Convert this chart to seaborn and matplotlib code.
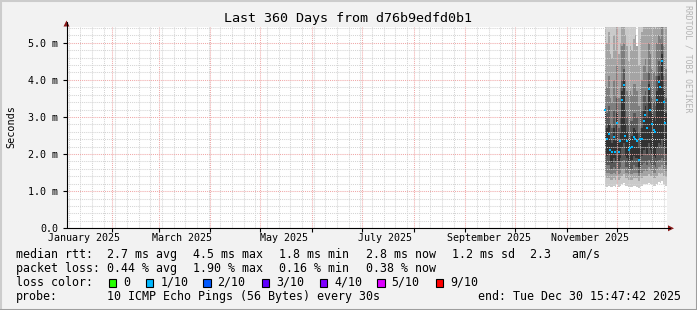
import matplotlib
matplotlib.use("Agg")
import matplotlib.pyplot as plt
import matplotlib.dates as mdates
from matplotlib.patches import Rectangle, Polygon
from matplotlib.lines import Line2D
from matplotlib.transforms import blended_transform_factory
import seaborn as sns
import pandas as pd
import numpy as np

W, H = 697, 310
sns.set_theme(style="white")
plt.rcParams['font.family'] = ['DejaVu Sans Mono', 'DejaVu Sans']

# ---------------- data ----------------
title = "Last 360 Days from d76b9edfd0b1"
range_start = pd.Timestamp("2025-01-04 15:47:42")
range_end = pd.Timestamp("2025-12-30 15:47:42")
days = pd.date_range("2025-11-23 12:00", periods=37, freq="D")

median = [3.20, 2.40, 2.55, 2.10, 2.05, 2.45, 2.05, 2.85, 2.05, 2.35, 3.45, 3.85, 2.50, 2.35, 2.10, 2.15, 2.20, 2.45, 2.40,
          2.35, 1.85, 2.40, 2.40, 2.90, 3.05, 2.70, 3.75, 3.20, 2.80, 2.65, 2.60, 3.45, 3.95, 3.80, 4.50, 3.40, 2.85]
ping5 = [2.00, 1.95, 2.00, 1.80, 1.75, 1.90, 1.80, 2.10, 1.80, 1.90, 2.20, 2.30, 1.95, 1.90, 1.80, 1.80, 1.85, 1.95, 1.90,
         1.90, 1.65, 1.90, 1.95, 2.10, 2.20, 2.00, 2.30, 2.10, 2.00, 1.95, 1.90, 2.20, 2.30, 2.25, 2.40, 2.15, 2.00]
ping6 = [3.30, 2.70, 2.80, 2.40, 2.30, 2.70, 2.35, 3.10, 2.30, 2.60, 3.70, 4.00, 2.80, 2.60, 2.40, 2.40, 2.50, 2.70, 2.65,
         2.60, 2.20, 2.70, 2.70, 3.20, 3.30, 3.00, 3.90, 3.40, 3.10, 3.00, 2.90, 3.70, 4.10, 4.00, 4.70, 3.70, 3.10]
ping4 = [1.75, 1.70, 1.70, 1.60, 1.60, 1.65, 1.60, 1.75, 1.60, 1.65, 1.80, 1.85, 1.65, 1.65, 1.60, 1.60, 1.60, 1.70, 1.65,
         1.65, 1.50, 1.65, 1.70, 1.75, 1.80, 1.70, 1.85, 1.75, 1.70, 1.70, 1.65, 1.80, 1.85, 1.85, 1.90, 1.80, 1.70]
ping7 = [3.60, 3.10, 3.30, 2.80, 2.70, 3.20, 2.80, 3.50, 2.70, 3.00, 4.00, 4.30, 3.20, 3.00, 2.80, 2.90, 2.90, 3.10, 3.10,
         3.00, 2.60, 3.10, 3.20, 3.60, 3.70, 3.40, 4.20, 3.80, 3.50, 3.40, 3.30, 4.10, 4.50, 4.40, 5.00, 4.10, 3.50]
ping3 = [1.55, 1.50, 1.50, 1.45, 1.45, 1.50, 1.45, 1.55, 1.45, 1.50, 1.60, 1.60, 1.50, 1.50, 1.45, 1.45, 1.45, 1.50, 1.50,
         1.50, 1.40, 1.50, 1.50, 1.55, 1.60, 1.55, 1.65, 1.60, 1.55, 1.50, 1.50, 1.60, 1.65, 1.65, 1.70, 1.60, 1.55]
ping8 = [4.30, 3.80, 4.10, 3.50, 3.40, 4.00, 3.60, 4.40, 3.50, 3.80, 4.90, 5.00, 4.00, 3.70, 3.60, 3.70, 3.60, 3.90, 3.90,
         3.70, 3.30, 3.90, 4.00, 4.40, 4.60, 4.20, 5.00, 4.70, 4.30, 4.20, 4.10, 5.00, 5.20, 5.10, 5.60, 4.90, 4.30]
ping2 = [1.38, 1.35, 1.35, 1.30, 1.30, 1.35, 1.30, 1.40, 1.30, 1.35, 1.42, 1.45, 1.35, 1.35, 1.30, 1.30, 1.30, 1.35, 1.35,
         1.35, 1.28, 1.35, 1.35, 1.40, 1.42, 1.40, 1.45, 1.42, 1.40, 1.35, 1.35, 1.42, 1.48, 1.45, 1.50, 1.42, 1.38]
ping9 = [5.50, 5.00, 5.30, 4.70, 4.60, 5.20, 4.80, 5.70, 4.70, 5.00, 6.00, 6.30, 5.20, 4.90, 4.50, 4.90, 4.80, 5.10, 5.20,
         4.90, 4.40, 5.10, 5.30, 5.70, 5.90, 5.50, 6.30, 6.00, 5.60, 5.50, 5.40, 6.20, 6.50, 6.40, 7.00, 6.20, 5.60]
ping1 = [1.15, 1.12, 1.15, 1.10, 1.10, 1.15, 1.12, 1.18, 1.10, 1.15, 1.20, 1.22, 1.15, 1.15, 1.10, 1.12, 1.10, 1.15, 1.15,
         1.12, 1.08, 1.15, 1.15, 1.20, 1.20, 1.18, 1.22, 1.20, 1.18, 1.15, 1.15, 1.20, 1.25, 1.22, 1.28, 1.20, 1.15]
ping10 = [8.0, 7.5, 7.8, 7.0, 6.9, 7.6, 7.2, 8.2, 7.1, 7.4, 8.6, 9.0, 7.6, 7.2, 6.8, 7.3, 7.1, 7.5, 7.6,
          4.9, 6.8, 7.5, 7.8, 8.2, 8.5, 8.0, 9.0, 8.6, 8.1, 8.0, 7.9, 8.9, 9.3, 9.1, 9.8, 8.9, 8.1]

y_ticks = [0, 1, 2, 3, 4, 5]
y_tick_labels = ["0.0", "1.0 m", "2.0 m", "3.0 m", "4.0 m", "5.0 m"]
x_labels = ["January 2025", "March 2025", "May 2025", "July 2025", "September 2025", "November 2025"]
x_label_dates = ["2025-01-15", "2025-03-15", "2025-05-15", "2025-07-15", "2025-09-15", "2025-11-15"]

row_median = [("median rtt:", 16), ("2.7 ms avg", 107), ("4.5 ms max", 193), ("1.8 ms min", 279),
              ("2.8 ms now", 366), ("1.2 ms sd", 452), ("2.3   am/s", 530)]
row_loss = [("packet loss:", 16), ("0.44 % avg", 107), ("1.90 % max", 193), ("0.16 % min", 279), ("0.38 % now", 366)]
loss_names = ["0", "1/10", "2/10", "3/10", "4/10", "5/10", "9/10"]
loss_colors = ["#26ff00", "#00b8ff", "#0059ff", "#5e00ff", "#7e00ff", "#dd00ff", "#ff0000"]
loss_box_x = [108.7, 145.7, 203, 261.7, 319.5, 377, 435.7]
row_probe = [("probe:", 16), ("10 ICMP Echo Pings (56 Bytes) every 30s", 107),
             ("end: Tue Dec 30 15:47:42 2025", 478)]

smoke_colors = ["#cacaca", "#a4a4a4", "#7e7e7e", "#585858", "#323232"]

# ---------------- figure ----------------
fig = plt.figure(figsize=(W / 100, H / 100), dpi=100, facecolor="#f2f2f2")

def fx(x):
    return x / W

def fy(y):
    return 1 - y / H

L, R, T, B = 66.5, 666.5, 26.7, 228.3
ax = fig.add_axes([fx(L), fy(B), (R - L) / W, (B - T) / H])
ax.set_facecolor("white")

xs = mdates.date2num(list(days.to_pydatetime()) + [range_end.to_pydatetime()])

def ext(v):
    return list(v) + [v[-1]]

bands = [(ping1, ping10), (ping2, ping9), (ping3, ping8), (ping4, ping7), (ping5, ping6)]
for (lo, hi), c in zip(bands, smoke_colors):
    ax.fill_between(xs, ext(lo), ext(hi), step="post", color=c, linewidth=0, zorder=1)

centers = mdates.date2num((days + pd.Timedelta(hours=12)).to_pydatetime())
sns.scatterplot(x=centers, y=median, ax=ax, color=loss_colors[1], marker="s", s=4,
                linewidth=0, zorder=4, legend=False)

ax.set_xlim(mdates.date2num(range_start.to_pydatetime()), mdates.date2num(range_end.to_pydatetime()))
ax.set_ylim(0, (B - T) / 37.12)

months = pd.date_range("2025-02-01", "2025-12-01", freq="MS")
weeks = pd.date_range("2025-01-06", "2025-12-29", freq="W-MON")
ax.set_xticks(mdates.date2num(months.to_pydatetime()))
ax.set_xticks(mdates.date2num(weeks.to_pydatetime()), minor=True)
ax.set_xticklabels([])
ax.set_yticks(y_ticks)
ax.set_yticks(np.arange(0, 5.5, 0.2), minor=True)
ax.set_yticklabels(y_tick_labels, fontsize=7.2, color="#000000")
ax.tick_params(axis="y", which="major", length=3, width=0.8, color="black", pad=3, direction="out", left=True)
ax.tick_params(axis="x", which="major", length=3, width=0.8, color="black", direction="out", bottom=True)
ax.tick_params(which="minor", length=0)

ax.grid(which="minor", color="#d4d4d4", linestyle=(0, (1, 1)), linewidth=0.75)
ax.grid(which="major", color="#f0a8a8", linestyle=(0, (1, 1)), linewidth=0.75)
ax.set_axisbelow(False)
for s in ax.spines.values():
    s.set_visible(False)

# axes lines and arrows
fig.add_artist(Line2D([fx(L), fx(L)], [fy(B), fy(22)], color="black", linewidth=0.8))
fig.add_artist(Line2D([fx(L), fx(670)], [fy(B), fy(B)], color="black", linewidth=0.8))
fig.add_artist(Polygon([[fx(63.5), fy(26.5)], [fx(69.5), fy(26.5)], [fx(66.5), fy(20.5)]],
                       closed=True, color="#8b1a1a", linewidth=0))
fig.add_artist(Polygon([[fx(668), fy(225.3)], [fx(668), fy(231.3)], [fx(674), fy(228.3)]],
                       closed=True, color="#8b1a1a", linewidth=0))

# x labels
tr = blended_transform_factory(ax.transData, fig.transFigure)
for lab, d in zip(x_labels, x_label_dates):
    ax.text(mdates.date2num(pd.Timestamp(d).to_pydatetime()), fy(237.7), lab, transform=tr,
            ha="center", va="center", fontsize=7.2, color="black")

# title, y label, watermark
fig.text(fx(348), fy(18.5), title, ha="center", va="center", fontsize=9.6, color="black")
fig.text(fx(11), fy(127), "Seconds", rotation=90, ha="center", va="center", fontsize=7.3, color="black")
fig.text(fx(688), fy(59), "RRDTOOL / TOBI OETIKER", rotation=270, ha="center", va="center",
         fontsize=5.9, color="#b4b4b4")

# legend rows
LFS = 8.37
for txt, x in row_median:
    fig.text(fx(x), fy(254.3), txt, ha="left", va="center", fontsize=LFS, color="black")
for txt, x in row_loss:
    fig.text(fx(x), fy(268.3), txt, ha="left", va="center", fontsize=LFS, color="black")
fig.text(fx(16), fy(282.3), "loss color:", ha="left", va="center", fontsize=LFS, color="black")
for name, col, bx in zip(loss_names, loss_colors, loss_box_x):
    fig.add_artist(Rectangle((fx(bx), fy(286.5)), 7.5 / W, 8 / H, facecolor=col,
                             edgecolor="black", linewidth=0.8))
    fig.text(fx(bx + 14.5), fy(282.3), name, ha="left", va="center", fontsize=LFS, color="black")
for txt, x in row_probe:
    fig.text(fx(x), fy(296.3), txt, ha="left", va="center", fontsize=LFS, color="black")

# outer frame
fig.add_artist(Line2D([0, 0], [0, 1], color="#cccccc", linewidth=2.2))
fig.add_artist(Line2D([0, 1], [1, 1], color="#cccccc", linewidth=2.2))
fig.add_artist(Line2D([1, 1], [0, 1], color="#9e9e9e", linewidth=2.2))
fig.add_artist(Line2D([0, 1], [0, 0], color="#9e9e9e", linewidth=2.2))

fig.savefig("out.png", dpi=100, facecolor=fig.get_facecolor())
